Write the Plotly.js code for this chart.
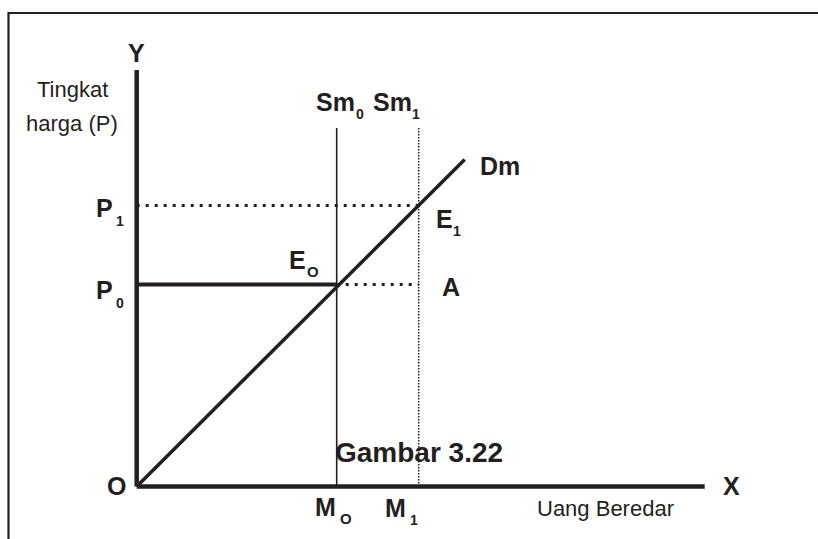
<!DOCTYPE html>
<html>
<head>
<meta charset="utf-8">
<script src="https://cdn.plot.ly/plotly-3.0.1.min.js"></script>
<style>html,body{margin:0;padding:0;background:#fff;}#chart{width:818px;height:539px;}</style>
</head>
<body>
<div id="chart"></div>
<script>
// Money market diagram (units: M along x, P along y)
const M0 = 2.00;        // money supply before (Sm0)
const M1 = 2.82;        // money supply after (Sm1)
const P0 = 2.02;        // price level at E0
const P1 = 2.81;        // price level at E1
const dmX = [0, 3.28];  // demand for money line Dm
const dmY = [0, 3.27];
const yAxisTop = 4.165;
const xAxisEnd = 5.68;
const sm0Top = 3.585;
const sm1Top = 3.60;

const ink = '#231f20';
const fam = 'Liberation Sans, Arial, sans-serif';

function seg(x, y, width, dash) {
  return {x: x, y: y, type: 'scatter', mode: 'lines', hoverinfo: 'skip',
    line: {color: ink, width: width, dash: dash || 'solid'}, showlegend: false};
}

const traces = [
  seg([0, 0], [0, yAxisTop], 4.5),            // Y axis
  seg([0, xAxisEnd], [0, 0], 4.5),            // X axis
  seg([M0, M0], [0, sm0Top], 1.6),            // Sm0
  seg([M1, M1], [0, sm1Top], 1.5, '1.5px,1.5px'), // Sm1 dotted
  seg([0, M1], [P1, P1], 3, '3px,6px'),       // P1 dotted
  seg([0, M0], [P0, P0], 4),                  // P0 solid
  seg([M0, M1], [P0, P0], 3, '3px,6px'),      // E0 -> A dotted
  seg(dmX, dmY, 3.5)                          // Dm
];

function lab(text, x, y, xs, ys, size, bold, anchor) {
  return {text: bold ? '<b>' + text + '</b>' : text, x: x, y: y, xref: 'x', yref: 'y',
    xshift: xs, yshift: ys, showarrow: false, xanchor: anchor || 'center', yanchor: 'middle',
    borderpad: 0, font: {family: fam, size: size, color: ink}};
}

const B = 25, S = 14;
const annotations = [
  lab('Y', 0, yAxisTop, 0, 17, 25, true),
  lab('O', 0, 0, -20, 1, 25, true),
  lab('X', xAxisEnd, 0, 27, 1, 25, true),
  lab('Tingkat', 0, yAxisTop, -64, -19, 22, false),
  lab('harga (P)', 0, yAxisTop, -65, -53, 22, false),
  lab('P', 0, P1, -32, -2, B, true),
  lab('1', 0, P1, -17, -15, S, true),
  lab('P', 0, P0, -32, -5, B, true),
  lab('0', 0, P0, -17, -18, S, true),
  lab('Sm', M0, sm0Top, -22, 26, B, true, 'left'),
  lab('0', M0, sm0Top, 23, 14, S, true),
  lab('Sm', M1, sm1Top, -47, 25, B, true, 'left'),
  lab('1', M1, sm1Top, -3, 13, S, true),
  lab('Dm', dmX[1], dmY[1], 14, -6, B, true, 'left'),
  lab('E', M1, P1, 16, -13, B, true, 'left'),
  lab('1', M1, P1, 38, -25, S, true),
  lab('E', M0, P0, -49, 25, B, true, 'left'),
  lab('O', M0, P0, -24, 13, 15, true),
  lab('A', M1, P0, 22, -2, B, true, 'left'),
  lab('M', M0, 0, -11, -20, B, true),
  lab('O', M0, 0, 9, -32, 15, true),
  lab('M', M1, 0, -23, -21, B, true),
  lab('1', M1, 0, -5, -33, S, true),
  lab('Gambar 3.22', M1, 0, 0, 34, 28, true),
  lab('Uang Beredar', xAxisEnd, 0, -99, -22, 22, false)
];

const layout = {
  width: 818, height: 539, autosize: false,
  margin: {l: 0, r: 0, t: 0, b: 0, pad: 0},
  paper_bgcolor: '#ffffff', plot_bgcolor: '#ffffff',
  xaxis: {range: [-1.367, 6.813], visible: false, fixedrange: true},
  yaxis: {range: [-0.525, 4.865], visible: false, fixedrange: true},
  showlegend: false,
  annotations: annotations,
  shapes: [{type: 'rect', xref: 'paper', yref: 'paper',
    x0: 8.5 / 818, x1: 1.05, y0: -0.05, y1: (539 - 13) / 539,
    line: {color: ink, width: 2.2}, fillcolor: 'rgba(0,0,0,0)', layer: 'above'}]
};

Plotly.newPlot('chart', traces, layout, {staticPlot: true, displayModeBar: false});
</script>
</body>
</html>
